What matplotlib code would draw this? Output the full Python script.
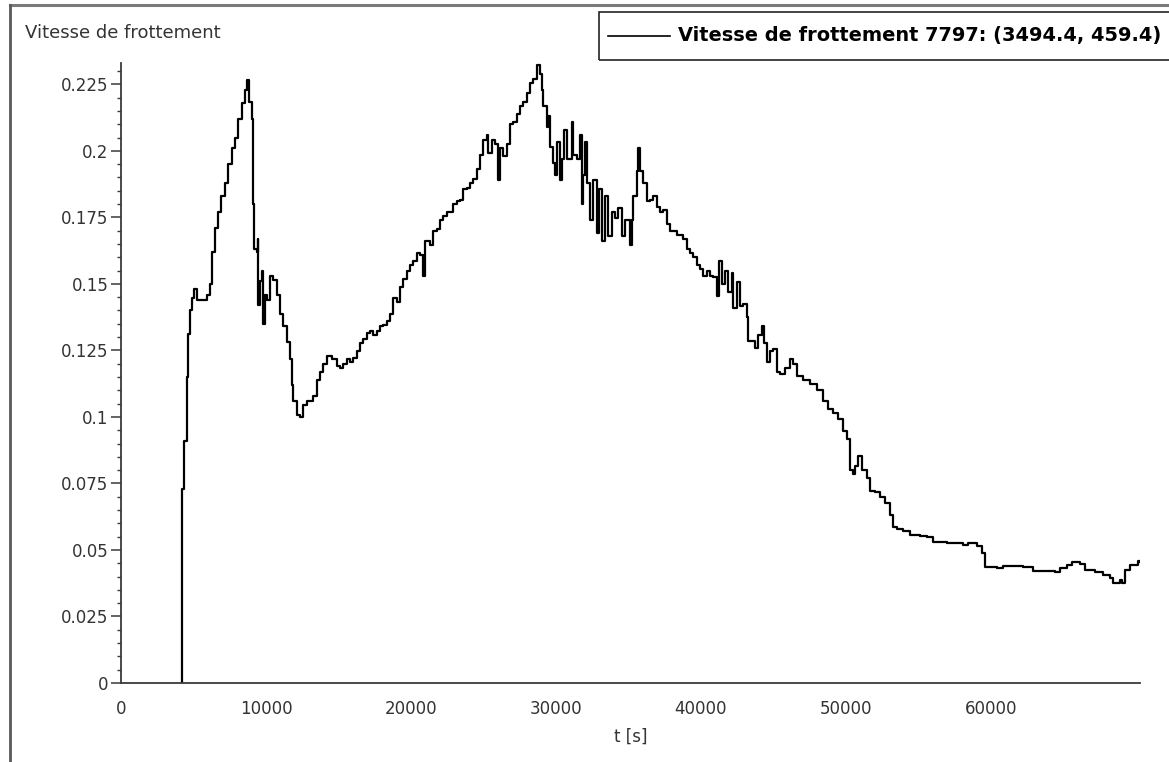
import numpy as np
import matplotlib
matplotlib.use("Agg")
import matplotlib.pyplot as plt
from matplotlib import font_manager
from matplotlib.lines import Line2D
from matplotlib.patches import Rectangle
from matplotlib.ticker import MultipleLocator

# friction velocity record, time in seconds
t_s = [
    4184, 4184, 4345, 4529, 4644, 4759, 4874, 5035, 5219, 5908, 6138, 6253,
    6483, 6713, 6874, 7173, 7403, 7633, 7863, 8092, 8322, 8552, 8713, 8851,
    9012, 9127, 9196, 9357, 9426, 9472, 9587, 9702, 9817, 9932, 10093, 10277,
    10506, 10736, 10966, 11196, 11426, 11656, 11771, 11886, 12116, 12346,
    12576, 12806, 13266, 13495, 13725, 13955, 14185, 14530, 14875, 15104,
    15334, 15564, 15794, 16024, 16254, 16484, 16714, 16944, 17173, 17403,
    17633, 17863, 18093, 18323, 18553, 18783, 19013, 19242, 19472, 19702,
    19932, 20162, 20392, 20622, 20806, 20967, 21312, 21542, 21771, 22001,
    22231, 22461, 22691, 22921, 23151, 23381, 23611, 23841, 24071, 24300,
    24530, 24760, 24990, 25220, 25335, 25565, 25795, 26024, 26140, 26369,
    26599, 26829, 27059, 27289, 27519, 27749, 27979, 28209, 28438, 28668,
    28898, 29013, 29128, 29358, 29473, 29588, 29818, 29933, 30048, 30278,
    30393, 30554, 30738, 31083, 31197, 31427, 31657, 31772, 31887, 32002,
    32117, 32347, 32577, 32807, 32990, 33152, 33381, 33611, 33841, 34071,
    34301, 34531, 34761, 35106, 35221, 35336, 35566, 35680, 35795, 36025,
    36255, 36485, 36715, 36945, 37175, 37404, 37634, 37864, 38324, 38784,
    39014, 39244, 39474, 39704, 39934, 40164, 40394, 40623, 40853, 41083,
    41267, 41428, 41658, 41888, 42118, 42233, 42463, 42692, 42922, 43152,
    43267, 43497, 43727, 43957, 44187, 44348, 44532, 44762, 44992, 45222,
    45451, 45796, 46141, 46371, 46601, 47061, 47520, 47980, 48440, 48785,
    49130, 49474, 49819, 50049, 50279, 50463, 50624, 50854, 51084, 51429,
    51659, 52003, 52348, 52693, 53038, 53268, 53498, 53957, 54418, 55107,
    55567, 56027, 56946, 58096, 58440, 59015, 59360, 59590, 60395, 60854,
    62234, 62924, 64418, 64763, 65223, 65568, 66142, 66487, 67177, 67751,
    68211, 68441, 68901, 69016, 69246, 69591, 70164, 70280,
]
u_star = [
    0.0, 0.073, 0.091, 0.115, 0.131, 0.140, 0.1447, 0.148, 0.144, 0.146,
    0.150, 0.162, 0.171, 0.177, 0.183, 0.188, 0.195, 0.201, 0.205, 0.212,
    0.218, 0.223, 0.2265, 0.2185, 0.212, 0.180, 0.163, 0.162, 0.167, 0.142,
    0.151, 0.155, 0.135, 0.146, 0.144, 0.153, 0.1516, 0.146, 0.1385, 0.134,
    0.128, 0.1216, 0.112, 0.106, 0.1008, 0.100, 0.1046, 0.106, 0.1077,
    0.114, 0.117, 0.120, 0.123, 0.1216, 0.119, 0.1185, 0.120, 0.1216,
    0.1208, 0.1223, 0.1247, 0.1277, 0.1293, 0.1316, 0.1323, 0.1308, 0.1323,
    0.134, 0.1347, 0.136, 0.1385, 0.1447, 0.143, 0.149, 0.152, 0.1547,
    0.157, 0.1585, 0.1616, 0.161, 0.153, 0.166, 0.1647, 0.170, 0.1708,
    0.174, 0.1755, 0.177, 0.177, 0.180, 0.181, 0.1816, 0.1855, 0.186,
    0.1878, 0.1893, 0.193, 0.1985, 0.204, 0.206, 0.199, 0.204, 0.2024,
    0.189, 0.201, 0.198, 0.2024, 0.210, 0.211, 0.214, 0.217, 0.2185,
    0.2216, 0.2255, 0.227, 0.2324, 0.229, 0.223, 0.217, 0.209, 0.213,
    0.2016, 0.1955, 0.191, 0.2032, 0.189, 0.197, 0.208, 0.197, 0.211,
    0.1985, 0.197, 0.206, 0.180, 0.191, 0.2032, 0.1878, 0.174, 0.189,
    0.169, 0.1855, 0.166, 0.183, 0.1678, 0.177, 0.1747, 0.1785, 0.1678,
    0.174, 0.1647, 0.174, 0.183, 0.1924, 0.201, 0.1924, 0.1878, 0.181,
    0.1816, 0.183, 0.179, 0.177, 0.1778, 0.1724, 0.170, 0.1685, 0.167,
    0.163, 0.1616, 0.160, 0.157, 0.1554, 0.153, 0.1547, 0.153, 0.1524,
    0.1454, 0.1585, 0.150, 0.1547, 0.147, 0.154, 0.1408, 0.1508, 0.1416,
    0.1424, 0.1377, 0.1285, 0.1285, 0.126, 0.1308, 0.134, 0.1277, 0.1208,
    0.1247, 0.1254, 0.117, 0.1162, 0.1185, 0.1216, 0.120, 0.1154, 0.1139,
    0.1123, 0.110, 0.106, 0.1031, 0.1016, 0.0993, 0.0946, 0.0916, 0.080,
    0.0785, 0.0816, 0.0854, 0.080, 0.077, 0.0723, 0.0716, 0.070, 0.0677,
    0.0631, 0.0585, 0.0577, 0.057, 0.0557, 0.0553, 0.055, 0.0531, 0.0525,
    0.0519, 0.0528, 0.0513, 0.0488, 0.0437, 0.0434, 0.044, 0.0437, 0.0422,
    0.0418, 0.0431, 0.0444, 0.0454, 0.0448, 0.0425, 0.0418, 0.0406,
    0.0393, 0.0377, 0.0387, 0.0377, 0.0425, 0.0444, 0.0459, 0.0454,
]

x_ticks = [0, 10000, 20000, 30000, 40000, 50000, 60000]
legend_label = "Vitesse de frottement 7797: (3494.4, 459.4)"

W, H = 1169, 762
fig = plt.figure(figsize=(W / 100, H / 100), dpi=100)
fig.patch.set_facecolor("white")


def fx(px):
    return px / W


def fy(py):
    return 1 - py / H


def narrow_family():
    # the legend uses a narrow bold face when one is installed
    for name in ("Liberation Sans Narrow", "DejaVu Sans Condensed"):
        try:
            font_manager.findfont(font_manager.FontProperties(family=name, weight="bold"),
                                  fallback_to_default=False)
            return name
        except ValueError:
            pass
    return "DejaVu Sans"


ax = fig.add_axes([fx(121), fy(683), fx(1140) - fx(121), fy(63) - fy(683)])
ax.plot(t_s, u_star, color="black", lw=1.6, drawstyle="steps-post")

ax.set_xlim(0, t_s[-1])
ax.set_ylim(0, 0.233)
ax.set_xticks(x_ticks)
ax.set_xticklabels([str(v) for v in x_ticks])
ax.yaxis.set_major_locator(MultipleLocator(0.025))
ax.yaxis.set_minor_locator(MultipleLocator(0.005))
ax.set_yticklabels([f"{v:g}" for v in ax.get_yticks()])

for side in ("top", "right"):
    ax.spines[side].set_visible(False)
for side in ("left", "bottom"):
    ax.spines[side].set_color("#3a3a3a")
    ax.spines[side].set_linewidth(1.3)

ax.tick_params(axis="x", length=0, pad=12, labelsize=12, labelcolor="#333333")
ax.tick_params(axis="y", which="major", length=7, width=1.1, color="#3a3a3a",
               pad=2, labelsize=12, labelcolor="#333333")
ax.tick_params(axis="y", which="minor", length=3, width=1.0, color="#3a3a3a")
ax.set_xlabel("t [s]", fontsize=12, color="#333333", labelpad=7)

# quantity name above the axis
fig.text(fx(25), fy(33), "Vitesse de frottement", fontsize=13, color="#333333",
         va="center", ha="left")

# legend box running off the right edge
fig.patches.append(Rectangle((fx(599), fy(60)), fx(1180) - fx(599), fy(12) - fy(60),
                             transform=fig.transFigure, fill=False,
                             edgecolor="#222222", lw=1.2))
fig.lines.append(Line2D([fx(608), fx(670)], [fy(36), fy(36)],
                        transform=fig.transFigure, color="black", lw=1.2))
leg_text = fig.text(fx(678), fy(36), legend_label, fontsize=16, fontweight="bold",
                    family=narrow_family(), va="center", ha="left", color="black")

# fit the legend entry to the room left of the right edge
renderer = fig.canvas.get_renderer()
width = leg_text.get_window_extent(renderer).width
leg_text.set_fontsize(min(16.5, 16 * 482 / width))

# window frame
fig.lines.append(Line2D([fx(10), 1], [fy(5), fy(5)], transform=fig.transFigure,
                        color="#7a7a7a", lw=2.2))
fig.lines.append(Line2D([fx(10), fx(10)], [fy(5), 0], transform=fig.transFigure,
                        color="#5a5a5a", lw=2.0))

fig.savefig("out.png", dpi=100)
